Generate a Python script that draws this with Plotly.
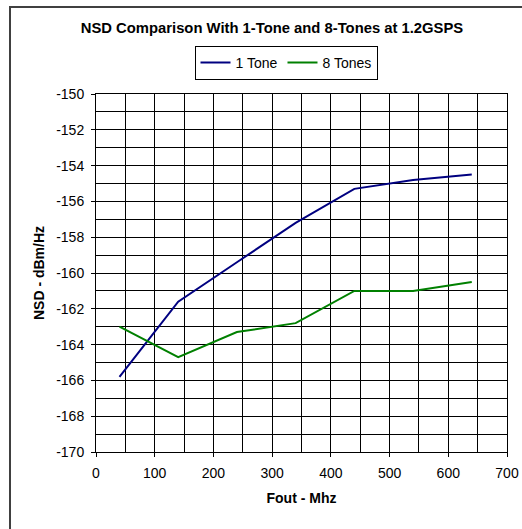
import plotly.graph_objects as go

fout = [40, 140, 240, 340, 440, 540, 640]
one_tone = [-165.8, -161.6, -159.4, -157.2, -155.3, -154.8, -154.5]
eight_tones = [-163.0, -164.7, -163.3, -162.8, -161.0, -161.0, -160.5]

x_ticks = [0, 100, 200, 300, 400, 500, 600, 700]
y_ticks = [-170, -168, -166, -164, -162, -160, -158, -156, -154, -152, -150]
y_tick_labels = ["-170", "-168", "-166", "-164", "-162", "-160",
                 "-158", "-156", "-154", "-152", "-150"]

W, H = 522, 529
L, R, T, B = 96, 15, 94, 77
pw, ph = W - L - R, H - T - B

fig = go.Figure()
fig.add_trace(go.Scatter(x=fout, y=one_tone, mode="lines", name="1 Tone",
                         line=dict(color="#000080", width=2)))
fig.add_trace(go.Scatter(x=fout, y=eight_tones, mode="lines", name="8 Tones",
                         line=dict(color="#008000", width=2)))

font = "Liberation Sans, Arial, sans-serif"
fig.update_layout(
    width=W, height=H,
    margin=dict(l=L, r=R, t=T, b=B),
    paper_bgcolor="white", plot_bgcolor="white",
    font=dict(family=font, size=14, color="black"),
    title=dict(text="<b>NSD Comparison With 1-Tone and 8-Tones at 1.2GSPS</b>",
               x=272 / W, xanchor="center", y=1 - 28 / H, yanchor="middle",
               font=dict(size=14.8, family=font, color="black")),
    legend=dict(orientation="h", x=(286 - L) / pw, xanchor="center",
                y=1 + (T - 46) / ph, yanchor="top",
                bordercolor="black", borderwidth=1, bgcolor="white",
                font=dict(size=14), itemwidth=30, tracegroupgap=0),
    xaxis=dict(range=[0, 700], tickvals=x_ticks,
               showgrid=True, gridcolor="black", gridwidth=1,
               showline=True, linecolor="black", linewidth=1, mirror=True,
               ticks="outside", ticklen=4, tickcolor="black",
               ticklabelstandoff=4, automargin=False,
               zeroline=False, tickfont=dict(size=14),
               title=dict(text="<b>Fout - Mhz</b>", font=dict(size=14), standoff=13)),
    yaxis=dict(range=[-170, -150], tickvals=y_ticks, ticktext=y_tick_labels,
               showgrid=True, gridcolor="black", gridwidth=1,
               showline=True, linecolor="black", linewidth=1, mirror=True,
               ticks="outside", ticklen=4, tickcolor="black",
               ticklabelstandoff=4, automargin=False,
               zeroline=False, tickfont=dict(size=14),
               title=dict(text="<b>NSD - dBm/Hz</b>", font=dict(size=14), standoff=8)),
)
# minor grid lines (every 50 MHz and every 1 dB)
fig.update_xaxes(minor=dict(dtick=50, showgrid=True, gridcolor="black", gridwidth=1))
fig.update_yaxes(minor=dict(dtick=1, showgrid=True, gridcolor="black", gridwidth=1))

# outer chart border
fig.add_shape(type="rect", xref="paper", yref="paper",
              x0=(10 - L) / pw, x1=1.2, y0=-0.4, y1=1 + (T - 7) / ph,
              line=dict(color="#404040", width=2), layer="below")

fig.write_html(
    "out.html",
    config={"displayModeBar": False},
    post_script="document.documentElement.style.overflow='hidden';"
                "document.body.style.margin='0';document.body.style.overflow='hidden';",
)
